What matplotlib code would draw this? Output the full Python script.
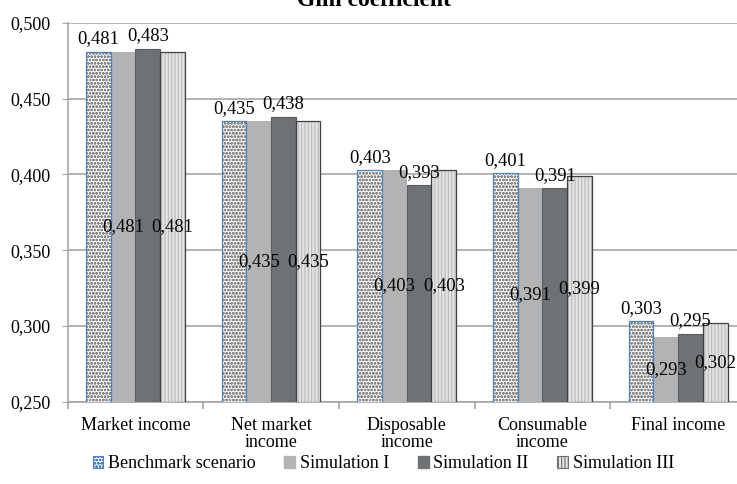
import matplotlib
matplotlib.use("Agg")
import matplotlib.pyplot as plt
from matplotlib.patches import Patch
import numpy as np

plt.rcParams['font.family'] = ['Liberation Serif', 'DejaVu Serif']
plt.rcParams['hatch.linewidth'] = 0.8

categories = ["Market income", "Net market\nincome", "Disposable\nincome",
              "Consumable\nincome", "Final income"]
series_names = ["Benchmark scenario", "Simulation I", "Simulation II", "Simulation III"]
benchmark = [0.481, 0.435, 0.403, 0.401, 0.303]
simulation_1 = [0.481, 0.435, 0.403, 0.391, 0.293]
simulation_2 = [0.483, 0.438, 0.393, 0.391, 0.295]
simulation_3 = [0.481, 0.435, 0.403, 0.399, 0.302]
y_ticks = [0.250, 0.300, 0.350, 0.400, 0.450, 0.500]

series = [benchmark, simulation_1, simulation_2, simulation_3]
# label placement per series: above the bar or centred inside it
label_pos = ["top", "center", "top", "center"]

fig = plt.figure(figsize=(7.37, 4.84), dpi=100)
ax = fig.add_axes([0.0916, 0.170, 0.9206, 0.783])

x = np.arange(len(categories))
w = 0.182
offsets = (np.arange(4) - 1.5) * w
base = y_ticks[0]

styles = [
    dict(facecolor="white", hatch="ooooo", hatch_color="#8a8a8a", edge="#4f81bd", lw=0.9),
    dict(facecolor="#b1b3b5", hatch=None, hatch_color=None, edge="#b1b3b5", lw=0.0),
    dict(facecolor="#6e7275", hatch=None, hatch_color=None, edge="#5a5e61", lw=0.8),
    dict(facecolor="#e4e4e4", hatch="|||||", hatch_color="#b8b8b8", edge="#404040", lw=0.9),
]

ax.set_ylim(base, y_ticks[-1])
ax.set_xlim(-0.5, len(categories) - 0.5)

for i, (vals, st) in enumerate(zip(series, styles)):
    heights = np.array(vals) - base
    pos = x + offsets[i]
    if st["hatch"]:
        ax.bar(pos, heights, w, bottom=base, facecolor=st["facecolor"],
               hatch=st["hatch"], edgecolor=st["hatch_color"], linewidth=0, zorder=3)
        ax.bar(pos, heights, w, bottom=base, facecolor="none",
               edgecolor=st["edge"], linewidth=st["lw"], zorder=4)
    else:
        ax.bar(pos, heights, w, bottom=base, facecolor=st["facecolor"],
               edgecolor=st["edge"], linewidth=st["lw"], zorder=3)
    for p, v in zip(pos, vals):
        txt = f"{v:.3f}".replace(".", ",")
        if label_pos[i] == "top":
            ax.annotate(txt, (p, v), xytext=(0, 3), textcoords="offset points",
                        ha="center", va="bottom", fontsize=13.3, zorder=6)
        else:
            ax.text(p, (v + base) / 2, txt, ha="center", va="center",
                    fontsize=13.3, zorder=6)

# axes styling
ax.set_yticks(y_ticks)
ax.set_yticklabels([f"{t:.3f}".replace(".", ",") for t in y_ticks], fontsize=13)
ax.yaxis.grid(True, color="#a6a6a6", linewidth=1.2, zorder=0)
ax.set_axisbelow(True)
for s in ["top", "right"]:
    ax.spines[s].set_visible(False)
for s in ["left", "bottom"]:
    ax.spines[s].set_color("#a6a6a6")
    ax.spines[s].set_linewidth(1.2)
ax.tick_params(axis="y", length=4, color="#a6a6a6", pad=8)

ax.set_xticks(x)
ax.set_xticklabels(categories, fontsize=13, linespacing=0.98)
ax.tick_params(axis="x", length=0, pad=11)
ax.set_xticks(np.arange(len(categories) + 1) - 0.5, minor=True)
ax.tick_params(axis="x", which="minor", length=5, color="#a6a6a6", width=1.2)

fig.text(0.508, 0.988, "Gini coefficient", ha="center", va="baseline",
         fontsize=17, fontweight="bold")

handles = [
    Patch(facecolor="white", hatch="ooooo", edgecolor="#4f81bd", linewidth=0.8),
    Patch(facecolor="#b1b3b5", edgecolor="#b1b3b5"),
    Patch(facecolor="#6e7275", edgecolor="#6e7275"),
    Patch(facecolor="#e4e4e4", hatch="|||||", edgecolor="#707070", linewidth=0.8),
]
fig.legend(handles, series_names, loc="center", bbox_to_anchor=(0.52, 0.042),
           ncol=4, frameon=False, fontsize=13, handlelength=0.6, handleheight=0.6,
           handletextpad=0.25, columnspacing=1.6)

fig.savefig("out.png", dpi=100)
